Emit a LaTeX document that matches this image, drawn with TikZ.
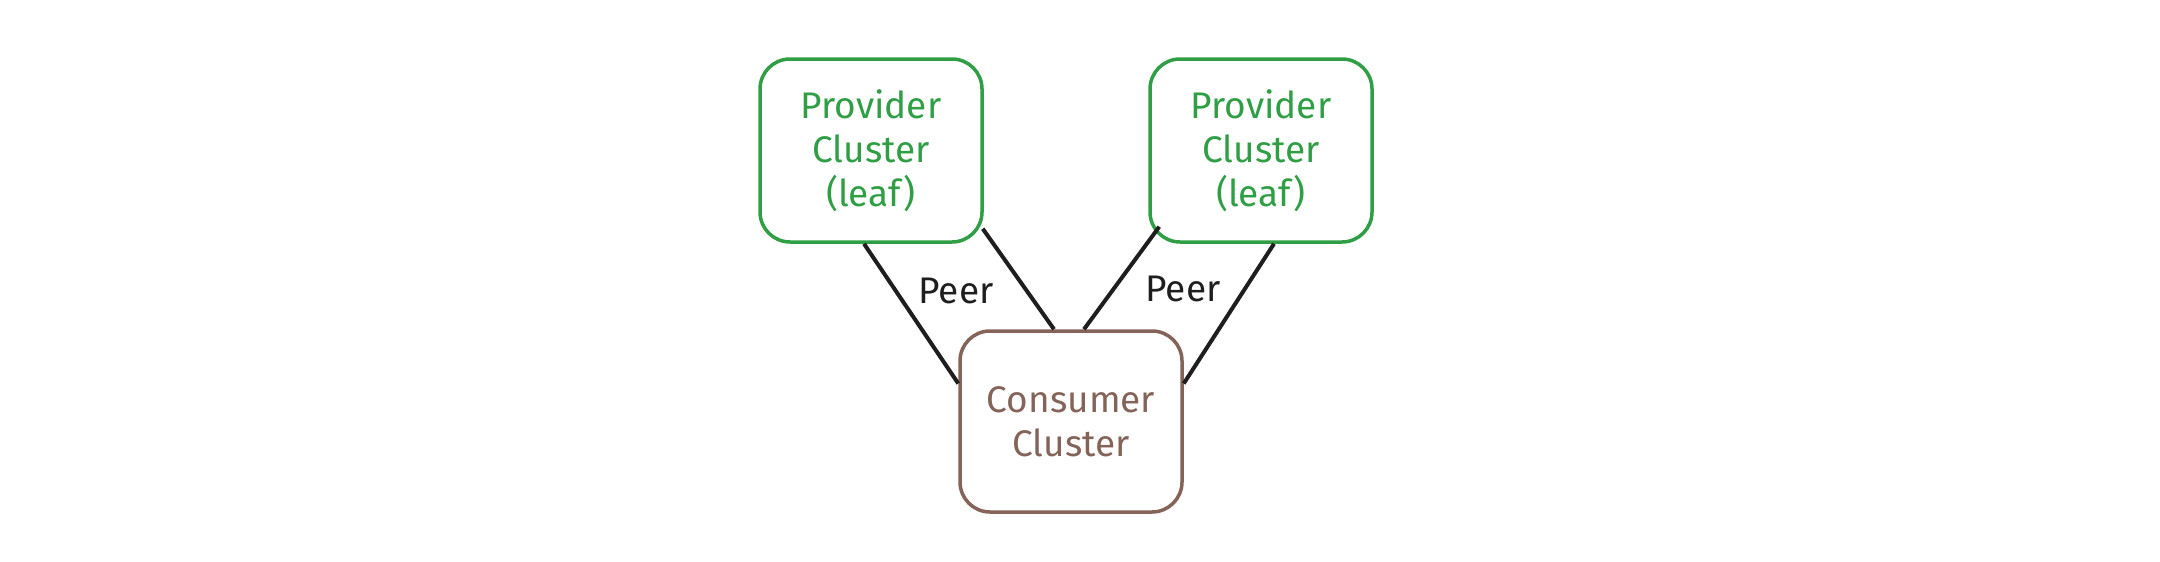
\documentclass[tikz,border=0pt]{standalone}
\usepackage{fontspec}
\setmainfont{Fira Sans}
\usetikzlibrary{calc}
\definecolor{provgreen}{HTML}{2F9E44}
\definecolor{consbrown}{HTML}{846358}
\definecolor{inkdark}{HTML}{1E1E1E}
\tikzset{
  cluster/.style={draw, line width=3.5pt, rounded corners=30pt, fill=white,
    minimum width=222pt, align=center, inner sep=0pt,
    font=\fontsize{37}{44}\selectfont},
  provider/.style={cluster, draw=provgreen, text=provgreen, minimum height=183pt},
  consumer/.style={cluster, draw=consbrown, text=consbrown, minimum height=181pt},
  peerline/.style={draw=inkdark, line width=4pt},
  peerlabel/.style={text=inkdark, font=\fontsize{37}{44}\selectfont, inner sep=0pt}
}
\begin{document}
\begin{tikzpicture}[x=1pt,y=-1pt]
\useasboundingbox (0,0) rectangle (2160,562);
\node[provider] (lp) at (871,150.5) {Provider\\Cluster\\(leaf)};
\node[provider] (rp) at (1261,150.5) {Provider\\Cluster\\(leaf)};
\node[consumer] (cons) at (1071,421.5) {Consumer\\Cluster};
\draw[peerline] ($(lp.south)+(-7,0)$) -- ($(cons.west)+(0,-38)$);
\draw[peerline] ($(lp.south east)+(-1,-15)$) -- ($(cons.north)+(-17,0)$);
\draw[peerline] ($(cons.north)+(13,0)$) -- ($(rp.south west)+(11,-17)$);
\draw[peerline] ($(rp.south)+(13,0)$) -- ($(cons.east)+(0,-38)$);
\node[peerlabel] (pl) at (956,291) {Peer};
\node[peerlabel] (pr) at (1183,289) {Peer};
\end{tikzpicture}
\end{document}
